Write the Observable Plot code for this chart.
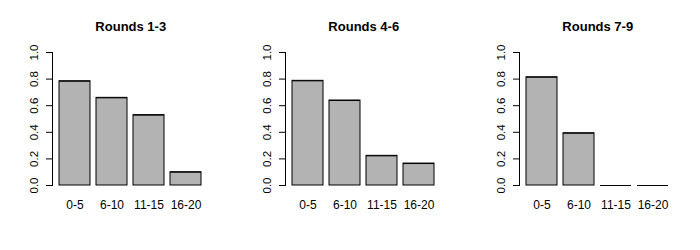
<!DOCTYPE html>
<html><head><meta charset="utf-8">
<script src="https://cdn.jsdelivr.net/npm/d3@7"></script>
<script src="https://cdn.jsdelivr.net/npm/@observablehq/plot@0.6"></script>
<style>
body{margin:0;background:#fff;}
#chart{display:flex;width:700px;height:250px;}
</style></head><body><div id="chart"></div>
<script>
const categories = ["0-5", "6-10", "11-15", "16-20"];
const titles = ["Rounds 1-3", "Rounds 4-6", "Rounds 7-9"];
const rounds13 = [0.784, 0.659, 0.529, 0.10];
const rounds46 = [0.787, 0.639, 0.223, 0.165];
const rounds79 = [0.814, 0.393, 0, 0];
const yTicks = [0, 0.2, 0.4, 0.6, 0.8, 1.0];

const series = [rounds13, rounds46, rounds79];
const widths = [233, 234, 233];
const root = document.getElementById("chart");

series.forEach((vals, k) => {
  const data = categories.map((c, i) => ({cat: c, value: vals[i]}));
  const w = widths[k];
  const chart = Plot.plot({
    width: w,
    height: 250,
    marginLeft: 52,
    marginRight: w - 208.5,
    marginTop: 52,
    marginBottom: 65,
    style: {fontFamily: "'Liberation Sans', Arial, Helvetica, sans-serif", fontSize: "11px", color: "black", background: "white"},
    x: {domain: categories, paddingInner: 1/6, paddingOuter: 0.1533, label: null},
    y: {domain: [0, 1], label: null},
    marks: [
      Plot.frame({anchor: "left", stroke: "black"}),
      Plot.axisY({ticks: yTicks, tickFormat: d3.format(".1f"), tickSize: 6, tickPadding: 9, tickRotate: -90, label: null, fontSize: 11.5, fill: "black"}),
      Plot.axisX({tickSize: 0, tickPadding: 15, label: null, fontSize: 12, fill: "black"}),
      Plot.barY(data, {x: "cat", y: "value", fill: "#b3b3b3", stroke: "black", strokeWidth: 1}),
      Plot.tickY(data, {x: "cat", y: "value", stroke: "black", strokeWidth: 1}),
      Plot.text([titles[k]], {text: d => d, frameAnchor: "top", dy: -26, lineAnchor: "middle", fontWeight: "bold", fontSize: 13, fill: "black"})
    ]
  });
  root.appendChild(chart);
});
</script>
</body></html>
